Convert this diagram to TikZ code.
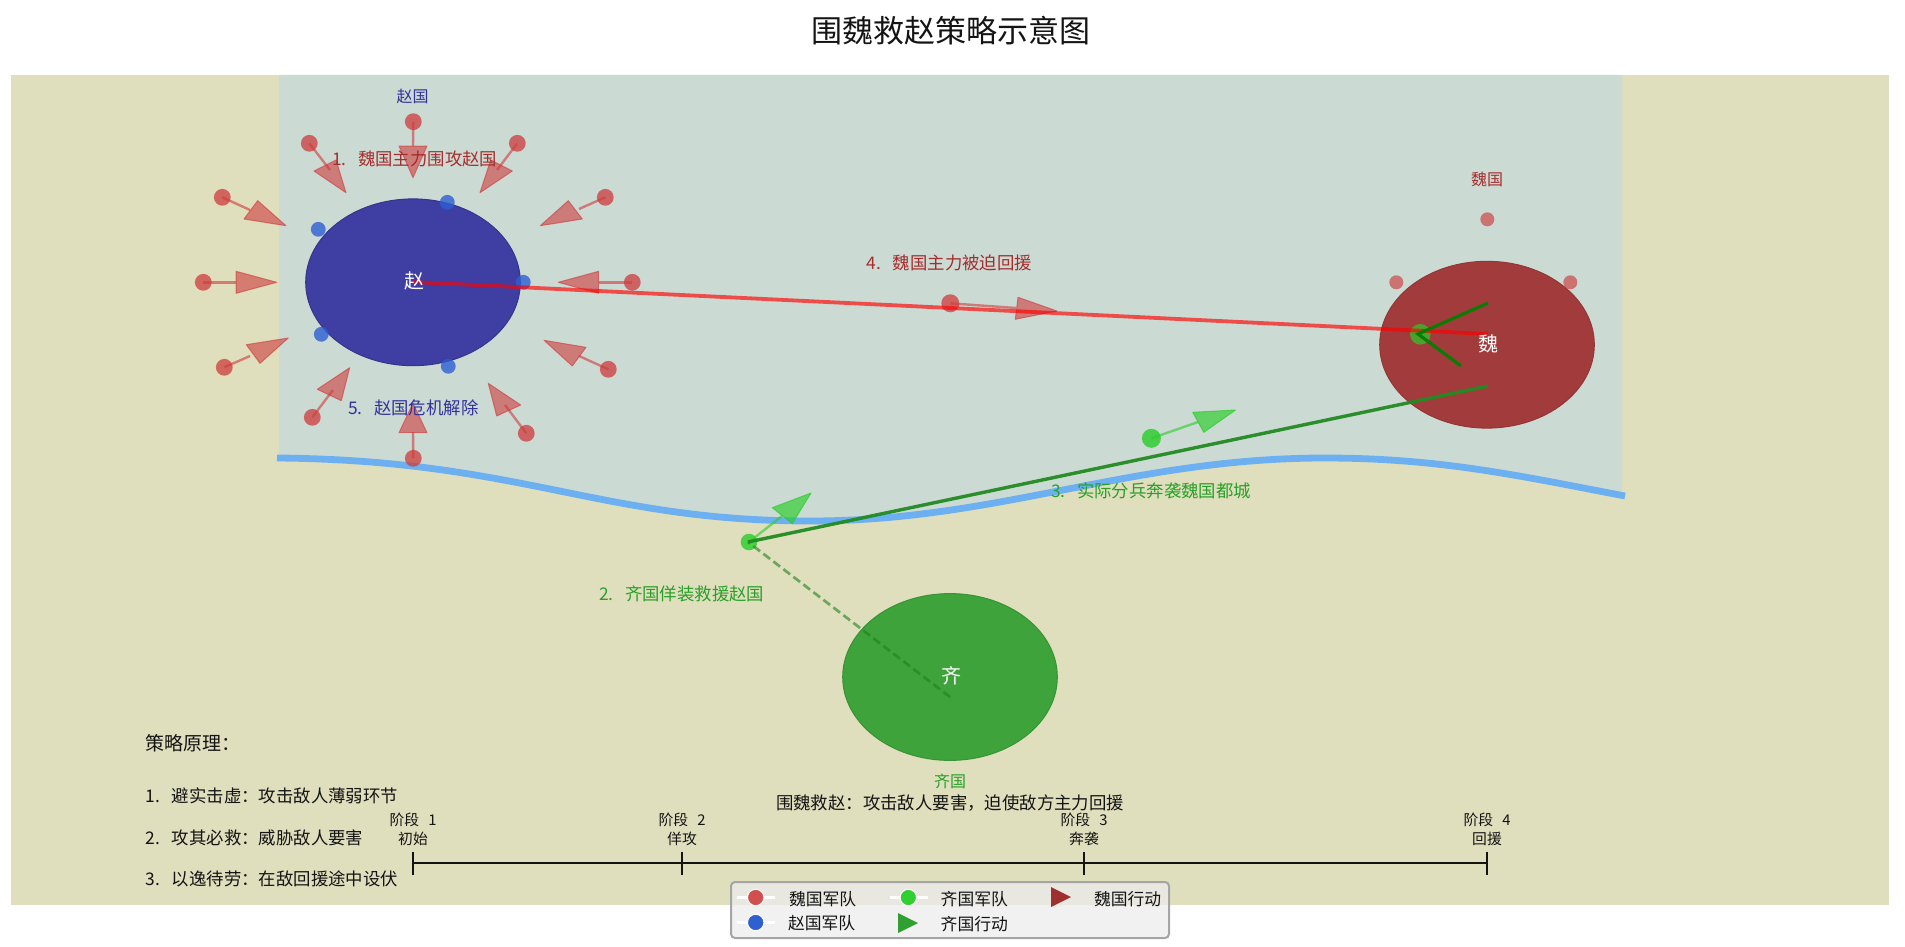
\documentclass[tikz,border=0pt]{standalone}
\usepackage{fontspec}
\usetikzlibrary{shapes.geometric}
\setmainfont{Noto Sans CJK SC}
\definecolor{land}{RGB}{223,222,189}
\definecolor{sea}{RGB}{204,218,212}
\definecolor{river}{RGB}{108,176,242}
\definecolor{zhaoc}{RGB}{62,62,163}
\definecolor{weic}{RGB}{162,60,60}
\definecolor{qic}{RGB}{62,163,58}
\definecolor{zhaot}{RGB}{50,50,155}
\definecolor{weit}{RGB}{165,45,45}
\definecolor{qit}{RGB}{40,160,40}
\definecolor{redm}{RGB}{205,60,60}
\definecolor{bluem}{RGB}{45,95,210}
\definecolor{greenm}{RGB}{40,205,40}
\definecolor{ink}{RGB}{20,20,20}
\definecolor{forest}{RGB}{34,139,34}
\definecolor{dashg}{RGB}{30,130,30}
\definecolor{legedge}{RGB}{165,165,165}
\definecolor{legfill}{RGB}{236,236,236}
\definecolor{legred}{RGB}{208,80,80}
\definecolor{legblue}{RGB}{48,96,208}
\definecolor{leggreen}{RGB}{48,208,48}
\definecolor{legbrown}{RGB}{160,48,48}
\definecolor{legdark}{RGB}{48,160,48}
\tikzset{
  txt/.style={inner sep=0pt,outer sep=0pt,text height=.8em,text depth=.1em,font=\fontsize{8.7pt}{10pt}\selectfont},
  zt/.style={txt,text=zhaot},
  wt/.style={txt,text=weit},
  qt/.style={txt,text=qit},
  bt/.style={txt,text=ink},
  realm/.style={ellipse,minimum width=107.3pt,minimum height=83.4pt,inner sep=0pt,outer sep=0pt,line width=.5pt},
  centerlab/.style={txt,text=white,font=\fontsize{10pt}{10pt}\selectfont},
  ball/.style={circle,inner sep=0pt,outer sep=0pt,minimum size=#1},
  reddot/.style={ball=8.4pt,fill=redm,fill opacity=.75},
  wdot/.style={ball=7pt,fill=redm,fill opacity=.65},
  bdot/.style={ball=7.4pt,fill=bluem,fill opacity=.8},
  gdot/.style={ball=#1,fill=greenm,fill opacity=.8},
  redstem/.style={draw=redm,line width=1.2pt,opacity=.6},
  redhead/.style={draw=redm,fill=redm,line width=.5pt,opacity=.6,line join=round},
  greenstem/.style={draw=greenm,line width=1.2pt,opacity=.6},
  greenhead/.style={draw=greenm,fill=greenm,line width=.5pt,opacity=.65,line join=round},
  legline/.style={draw=white,line width=1.3pt},
  legdot/.style={circle,inner sep=0pt,outer sep=0pt,minimum size=8.2pt,draw=white,line width=.5pt},
  legtxt/.style={bt,anchor=west,font=\fontsize{8.4pt}{10pt}\selectfont},
  tickline/.style={draw=ink,line width=1pt},
  stagelab/.style={bt,font=\fontsize{7.4pt}{9pt}\selectfont},
}
\newcommand{\nm}[1]{\makebox[1.5em][l]{#1}}
\newcommand{\stg}[1]{阶段\hspace{.62em}#1}
% name, dot, stem end, tip, corner, corner
\newcommand{\attack}[6]{%
  \node[reddot] (#1) at (#2) {};
  \coordinate (#1t) at (#4);
  \coordinate (#1a) at (#5);
  \coordinate (#1b) at (#6);
  \coordinate (#1m) at (#3);
  \draw[redstem] (#1.center) -- (#1m);
  \draw[redhead] (#1t) -- (#1a) -- (#1b) -- cycle;
}
\begin{document}
\begin{tikzpicture}[x=0.5pt,y=-0.5pt]
\useasboundingbox (0,0) rectangle (1905,947);
\node[bt,font=\fontsize{15.5pt}{18pt}\selectfont] (title) at (950.5,36) {围魏救赵策略示意图};
\fill[land] (11,75) rectangle (1889,905);
\begin{scope}
\clip (279,75) rectangle (1622,600);
\fill[sea] (270,75) -- (1630,75) -- (1625,496) .. controls (1520,476) and (1440,458) .. (1325,458) .. controls (1130,458) and (1000,521) .. (810,521) .. controls (600,521) and (520,460) .. (277,458) -- cycle;
\end{scope}
\coordinate (r0) at (277,458);
\coordinate (r1) at (810,521);
\coordinate (r2) at (1325,458);
\coordinate (r3) at (1625,496);
\draw[river,line width=3.4pt] (r0) .. controls (520,460) and (600,521) .. (r1) .. controls (1000,521) and (1130,458) .. (r2) .. controls (1440,458) and (1520,476) .. (r3);
% realms
\node[realm,fill=zhaoc,draw=zhaoc!85!black] (zhao) at (413,282.3) {};
\node[realm,fill=weic,draw=weic!90!black] (wei) at (1487,344.7) {};
\node[realm,fill=qic,draw=qic!90!black] (qi) at (950,677) {};
% zhao defenders
\node[bdot] (b1) at (447.3,202.3) {};
\node[bdot] (b2) at (318.3,229.3) {};
\node[bdot] (b3) at (321.3,334.3) {};
\node[bdot] (b4) at (448.3,366.3) {};
\node[bdot] (b5) at (523.3,282.3) {};
% wei defenders
\node[wdot] (w1) at (1487.3,219.3) {};
\node[wdot] (w2) at (1396.3,282.3) {};
\node[wdot] (w3) at (1570.3,282.3) {};
% siege arrows
\attack{a1}{413.3,121.7}{413,146}{413,177.7}{399,146}{427,146}
\attack{a2}{517.3,143.3}{497,170}{480,192.7}{512.3,171}{490.7,160}
\attack{a3}{605.3,197.3}{579,209}{540.3,225.7}{568.3,200.7}{582.3,219}
\attack{a4}{632.3,282.3}{599,282.3}{558.3,282.3}{598.7,271.3}{598.7,293.3}
\attack{a5}{608.3,369.3}{579,356}{544,340.3}{586,347.3}{572.3,366}
\attack{a6}{526.3,433.3}{505,405}{488.3,383.3}{520.7,405}{496.7,416}
\attack{a7}{413.3,458.3}{413,432}{413,403.3}{399,432.7}{427,432.7}
\attack{a8}{312.3,417.3}{333,390}{349.7,367.7}{317.3,389.3}{341.3,400.7}
\attack{a9}{224.3,367.3}{250,356}{288.3,338}{246.3,344.7}{260,363.3}
\attack{a10}{203.3,282.3}{236,282.3}{276.7,282.3}{236,271.3}{236,293.3}
\attack{a11}{222.3,197.3}{250,210}{286,225.7}{257.7,200.7}{244,219}
\attack{a12}{309.3,143.3}{330,170}{346,192.7}{314,171}{336,160}
% relief arrow
\node[ball=9pt,fill=redm,fill opacity=.75] (rd) at (950.3,303.3) {};
\coordinate (rm) at (1016,308);
\coordinate (rt) at (1057,311);
\coordinate (ra) at (1018,297.3);
\coordinate (rb) at (1015.3,319.3);
\draw[redstem] (rd.center) -- (rm);
\draw[redhead] (rt) -- (ra) -- (rb) -- cycle;
% qi fake and real arrows
\node[gdot=8.3pt] (qd) at (749,542) {};
\coordinate (qm) at (782,516);
\coordinate (qt) at (811,493);
\coordinate (qa) at (772.3,507.7);
\coordinate (qb) at (792.3,523.7);
\draw[greenstem] (qd.center) -- (qm);
\draw[greenhead] (qt) -- (qa) -- (qb) -- cycle;
\node[gdot=9.5pt] (gd) at (1151.4,438.3) {};
\coordinate (gm) at (1198,422);
\coordinate (gt) at (1235.6,410);
\coordinate (ga) at (1192.7,412.3);
\coordinate (gb) at (1203.8,432.3);
\draw[greenstem] (gd.center) -- (gm);
\draw[greenhead] (gt) -- (ga) -- (gb) -- cycle;
\node[ball=10.3pt,fill=greenm,fill opacity=.7] (gw) at (1420.3,334.3) {};
% main lines
\coordinate (rs) at (413,282);
\coordinate (re) at (1488,334);
\coordinate (fs) at (748,542);
\coordinate (fe) at (1488,386);
\coordinate (qc) at (950,697);
\coordinate (w4) at (1418,334);
\coordinate (w5) at (1488,303);
\coordinate (w6) at (1461,366);
\draw[dashg,opacity=.6,line width=1.35pt,dash pattern=on 4.2pt off 2.1pt] (qc) -- (fs);
\draw[red,opacity=.65,line width=1.9pt] (rs) -- (re);
\draw[green!50!black,opacity=.95,line width=1.6pt] (w5) -- (w4) -- (w6);
\draw[forest,opacity=.95,line width=1.7pt] (fs) -- (fe);
% labels
\node[centerlab] (zl) at (414,281.5) {赵};
\node[centerlab] (wl) at (1488,344) {魏};
\node[centerlab] (ql) at (951,676.5) {齐};
\node[zt,font=\fontsize{8pt}{10pt}\selectfont] (zn) at (412.5,96) {赵国};
\node[wt,font=\fontsize{8pt}{10pt}\selectfont] (wn) at (1487,178) {魏国};
\node[qt,font=\fontsize{8pt}{10pt}\selectfont] (qn) at (950,780) {齐国};
\node[wt,anchor=west] (s1) at (332,158.5) {\nm{1.}魏国主力围攻赵国};
\node[qt,anchor=west] (s2) at (599,593) {\nm{2.}齐国佯装救援赵国};
\node[qt,anchor=west] (s3) at (1051,490) {\nm{3.}实际分兵奔袭魏国都城};
\node[wt,anchor=west] (s4) at (866.7,262) {\nm{4.}魏国主力被迫回援};
\node[zt,anchor=west] (s5) at (348,407) {\nm{5.}赵国危机解除};
\node[bt] (sum) at (950,802) {围魏救赵：攻击敌人要害，迫使敌方主力回援};
% principles
\node[bt,anchor=west,font=\fontsize{9.5pt}{10pt}\selectfont] (p0) at (145.7,743) {策略原理：};
\node[bt,anchor=west] (p1) at (145.7,795) {\nm{1.}避实击虚：攻击敌人薄弱环节};
\node[bt,anchor=west] (p2) at (145.7,837) {\nm{2.}攻其必救：威胁敌人要害};
\node[bt,anchor=west] (p3) at (145.7,878) {\nm{3.}以逸待劳：在敌回援途中设伏};
% timeline
\coordinate (t1) at (413,863);
\coordinate (t2) at (682,863);
\coordinate (t3) at (1084,863);
\coordinate (t4) at (1487,863);
\draw[tickline] (t1) -- (t4);
\foreach \k in {t1,t2,t3,t4} {\draw[tickline] (\k) ++(0,-11.5) -- ++(0,23);}
\node[stagelab] (l1a) at (413,818.5) {\stg{1}};
\node[stagelab] (l1b) at (413,837) {初始};
\node[stagelab] (l2a) at (682,818.5) {\stg{2}};
\node[stagelab] (l2b) at (682,837) {佯攻};
\node[stagelab] (l3a) at (1084,818.5) {\stg{3}};
\node[stagelab] (l3b) at (1084,837) {奔袭};
\node[stagelab] (l4a) at (1487,818.5) {\stg{4}};
\node[stagelab] (l4b) at (1487,837) {回援};
% legend
\draw[draw=legedge,fill=legfill,fill opacity=.75,line width=1pt,rounded corners=2pt] (731,882) rectangle (1169,938);
\coordinate (k1a) at (737,897.5); \coordinate (k1b) at (775,897.5);
\coordinate (k2a) at (737,922.5); \coordinate (k2b) at (775,922.5);
\coordinate (k3a) at (890,897.5); \coordinate (k3b) at (928,897.5);
\draw[legline] (k1a) -- (k1b);
\draw[legline] (k2a) -- (k2b);
\draw[legline] (k3a) -- (k3b);
\node[legdot,fill=legred] (kd1) at (755.7,897.5) {};
\node[legdot,fill=legblue] (kd2) at (755.7,922.5) {};
\node[legdot,fill=leggreen] (kd3) at (908.3,897.5) {};
\fill[legbrown] (1051,887) -- (1071,897) -- (1051,907) -- cycle;
\fill[legdark] (898,913) -- (918,923) -- (898,933) -- cycle;
\node[legtxt] (k1) at (789,898) {魏国军队};
\node[legtxt] (k2) at (788,922.5) {赵国军队};
\node[legtxt] (k3) at (940.7,898) {齐国军队};
\node[legtxt] (k4) at (940.7,923) {齐国行动};
\node[legtxt] (k5) at (1094,898) {魏国行动};
\end{tikzpicture}
\end{document}
